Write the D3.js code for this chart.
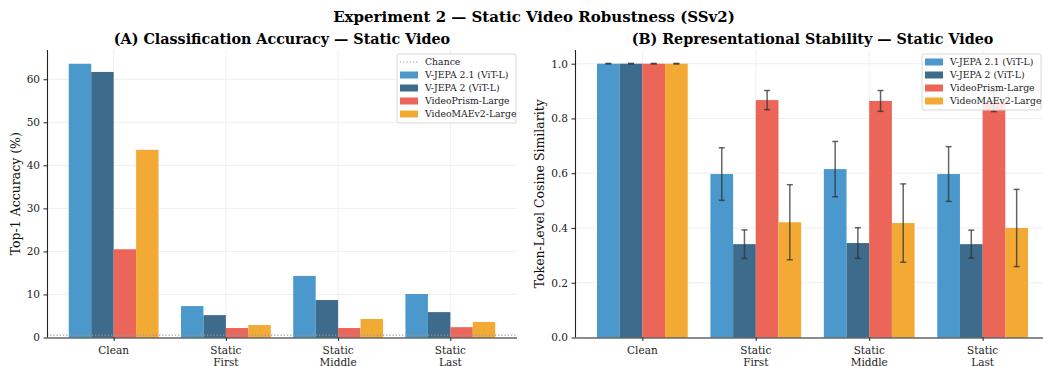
<!DOCTYPE html>
<html>
<head>
<meta charset="utf-8">
<script src="https://cdn.jsdelivr.net/npm/d3@7"></script>
<style>
  body { margin: 0; background: #fff; }
  svg { font-family: "DejaVu Serif", serif; }
</style>
</head>
<body>
<div id="chart"></div>
<script>
// categories + models
const conditions = ['Clean', 'Static\nFirst', 'Static\nMiddle', 'Static\nLast'];
const models = ['V-JEPA 2.1 (ViT-L)', 'V-JEPA 2 (ViT-L)', 'VideoPrism-Large', 'VideoMAEv2-Large'];
const colors = ['#4a98cc', '#3d6b8b', '#eb6559', '#f2aa35'];

// (A) top-1 accuracy, one array per model, in condition order
const accVJepa21 = [63.6, 7.3, 14.3, 10.1];
const accVJepa2 = [61.7, 5.2, 8.7, 5.9];
const accPrism = [20.5, 2.2, 2.2, 2.4];
const accMae = [43.6, 2.9, 4.3, 3.6];
const chance = 0.57;

// (B) token cosine similarity mean / std
const simVJepa21 = [1.0, 0.597, 0.615, 0.597];
const simVJepa2 = [1.0, 0.341, 0.345, 0.341];
const simPrism = [1.0, 0.867, 0.864, 0.862];
const simMae = [1.0, 0.421, 0.418, 0.400];
const sdVJepa21 = [0.001, 0.096, 0.101, 0.100];
const sdVJepa2 = [0.001, 0.052, 0.056, 0.051];
const sdPrism = [0.001, 0.035, 0.038, 0.037];
const sdMae = [0.001, 0.137, 0.143, 0.141];

const accTicks = [0, 10, 20, 30, 40, 50, 60];
const simTicks = [0, 0.2, 0.4, 0.6, 0.8, 1.0];

const width = 1043, height = 366;
const svg = d3.select('#chart').append('svg')
  .attr('width', width).attr('height', height);

svg.append('text')
  .attr('x', 534).attr('y', 22)
  .attr('text-anchor', 'middle')
  .attr('font-size', 15).attr('font-weight', 'bold')
  .text('Experiment 2 \u2014 Static Video Robustness (SSv2)');

function panel(opts) {
  const { left, right, top, bottom } = opts;
  const x = d3.scaleLinear().domain([-0.594, 3.594]).range([left, right]);
  const y = d3.scaleLinear().domain(opts.yDomain).range([bottom, top]);
  const bw = x(0.2) - x(0);
  const g = svg.append('g');

  // grid
  g.append('g').selectAll('line').data(opts.ticks).join('line')
    .attr('x1', left).attr('x2', right)
    .attr('y1', d => y(d)).attr('y2', d => y(d))
    .attr('stroke', '#ebebeb').attr('stroke-width', 0.8);
  g.append('g').selectAll('line').data(conditions).join('line')
    .attr('x1', (d, i) => x(i)).attr('x2', (d, i) => x(i))
    .attr('y1', top).attr('y2', bottom)
    .attr('stroke', '#ebebeb').attr('stroke-width', 0.8);

  // bars
  opts.series.forEach((vals, m) => {
    g.append('g').attr('fill', colors[m])
      .selectAll('rect').data(vals).join('rect')
      .attr('x', (d, i) => x(i - 0.4 + 0.2 * m))
      .attr('y', d => y(d))
      .attr('width', bw)
      .attr('height', d => y(0) - y(d));
  });

  // error bars
  if (opts.errors) {
    opts.series.forEach((vals, m) => {
      const eg = g.append('g').attr('stroke', '#333').attr('stroke-opacity', 0.75).attr('stroke-width', 1.5);
      vals.forEach((v, i) => {
        const cx = x(i - 0.3 + 0.2 * m);
        const lo = y(v - opts.errors[m][i]), hi = y(v + opts.errors[m][i]);
        eg.append('line').attr('x1', cx).attr('x2', cx).attr('y1', lo).attr('y2', hi);
        eg.append('line').attr('x1', cx - 3).attr('x2', cx + 3).attr('y1', lo).attr('y2', lo);
        eg.append('line').attr('x1', cx - 3).attr('x2', cx + 3).attr('y1', hi).attr('y2', hi);
      });
    });
  }

  if (opts.chance != null) {
    g.append('line')
      .attr('x1', left).attr('x2', right)
      .attr('y1', y(opts.chance)).attr('y2', y(opts.chance))
      .attr('stroke', '#999').attr('stroke-width', 1.2)
      .attr('stroke-dasharray', '1.2,2');
  }

  // axes
  const ya = g.append('g').attr('transform', `translate(${left},0)`)
    .call(d3.axisLeft(y).tickValues(opts.ticks).tickFormat(opts.fmt).tickSize(3.5).tickPadding(3.5));
  const xa = g.append('g').attr('transform', `translate(0,${bottom})`)
    .call(d3.axisBottom(x).tickValues(d3.range(conditions.length)).tickFormat('').tickSize(3.5));
  [ya, xa].forEach(a => {
    a.select('.domain').attr('stroke', '#222').attr('stroke-width', 1.1);
    a.selectAll('.tick line').attr('stroke', '#222');
    a.selectAll('text').attr('font-family', '"DejaVu Serif", serif').attr('font-size', 10.5).attr('fill', '#222');
  });
  xa.select('.domain').attr('d', `M${left},0.5H${right}`);
  ya.select('.domain').attr('d', `M0.5,${bottom}V${top}`);

  conditions.forEach((c, i) => {
    const t = g.append('text').attr('x', x(i)).attr('y', bottom + 16)
      .attr('text-anchor', 'middle').attr('font-size', 10.5).attr('fill', '#222');
    c.split('\n').forEach((line, k) => t.append('tspan').attr('x', x(i)).attr('dy', k ? 12 : 0).text(line));
  });

  g.append('text')
    .attr('transform', `translate(${opts.ylabX},${(top + bottom) / 2}) rotate(-90)`)
    .attr('text-anchor', 'middle').attr('font-size', 12.5).attr('fill', '#111')
    .text(opts.ylabel);

  g.append('text')
    .attr('x', (left + right) / 2).attr('y', 44)
    .attr('text-anchor', 'middle').attr('font-size', 14.3).attr('font-weight', 'bold')
    .text(opts.title);

  // legend
  const lg = g.append('g').attr('transform', `translate(${opts.legX},54)`);
  const rows = (opts.chance != null ? ['Chance'] : []).concat(models);
  lg.append('rect').attr('width', 119).attr('height', rows.length * 13 + 4)
    .attr('fill', '#fff').attr('fill-opacity', 0.85)
    .attr('stroke', '#d8d8d8').attr('rx', 2);
  rows.forEach((r, k) => {
    const yy = 8 + k * 13;
    if (r === 'Chance') {
      lg.append('line').attr('x1', 3).attr('x2', 21).attr('y1', yy).attr('y2', yy)
        .attr('stroke', '#999').attr('stroke-width', 1.2).attr('stroke-dasharray', '1.2,2');
    } else {
      lg.append('rect').attr('x', 3).attr('y', yy - 3.5).attr('width', 18).attr('height', 7)
        .attr('fill', colors[models.indexOf(r)]);
    }
    lg.append('text').attr('x', 28).attr('y', yy + 3.3).attr('font-size', 9.3).attr('fill', '#222').text(r);
  });
}

panel({
  left: 47, right: 517, top: 50, bottom: 337.5,
  yDomain: [0, 66.8], ticks: accTicks, fmt: d3.format('d'),
  series: [accVJepa21, accVJepa2, accPrism, accMae],
  chance: chance, ylabel: 'Top-1 Accuracy (%)', ylabX: 20,
  title: '(A) Classification Accuracy \u2014 Static Video', legX: 397
});

panel({
  left: 575, right: 1050, top: 50, bottom: 337.5,
  yDomain: [0, 1.05], ticks: simTicks, fmt: d3.format('.1f'),
  series: [simVJepa21, simVJepa2, simPrism, simMae],
  errors: [sdVJepa21, sdVJepa2, sdPrism, sdMae],
  ylabel: 'Token-Level Cosine Similarity', ylabX: 544,
  title: '(B) Representational Stability \u2014 Static Video', legX: 922
});
</script>
</body>
</html>
